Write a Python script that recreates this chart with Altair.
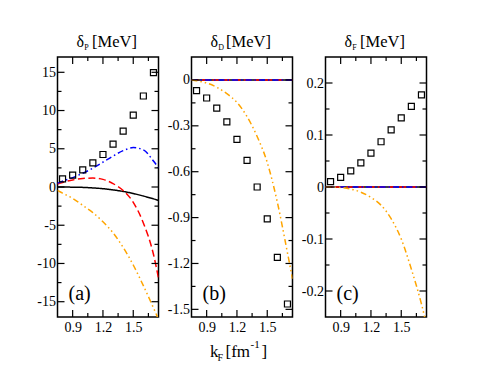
import altair as alt
import pandas as pd

FONT = "'Liberation Serif', 'Times New Roman', Times, serif"

# ---- data ----
KF_CURVE = [0.75, 0.8, 0.9, 1.0, 1.1, 1.2, 1.3, 1.4, 1.5, 1.6, 1.7, 1.75]
KF_SQ = [0.8, 0.9, 1.0, 1.1, 1.2, 1.3, 1.4, 1.5, 1.6, 1.7]

# panel (a): delta_P [MeV]
A_BLACK = [0.0, -0.01, -0.02, -0.05, -0.12, -0.22, -0.38, -0.58, -0.85, -1.18, -1.55, -1.75]
A_RED = [0.4, 0.6, 0.92, 1.12, 1.17, 1.0, 0.45, -0.45, -2.0, -4.7, -8.8, -11.9]
A_BLUE = [0.5, 0.75, 1.23, 1.8, 2.46, 3.25, 4.05, 4.75, 5.15, 4.85, 3.4, 2.5]
A_ORANGE = [-0.45, -0.8, -1.5, -2.4, -3.35, -4.55, -6.0, -7.9, -10.2, -12.9, -15.8, -17.3]
A_SQ = [1.05, 1.55, 2.24, 3.16, 4.25, 5.6, 7.3, 9.4, 11.9, 14.95]

# panel (b): delta_D [MeV]
B_BLACK = [0.0] * 12
B_RED = [0.0] * 12
B_BLUE = [0.0] * 12
B_ORANGE = [0.0, -0.005, -0.02, -0.048, -0.09, -0.147, -0.24, -0.37, -0.54, -0.80, -1.13, -1.3]
B_SQ = [-0.070, -0.118, -0.184, -0.274, -0.388, -0.526, -0.70, -0.909, -1.16, -1.465]

# panel (c): delta_F [MeV]
C_BLACK = [0.0] * 12
C_RED = [0.0] * 12
C_BLUE = [0.0] * 12
C_ORANGE = [0.0, 0.0, -0.001, -0.004, -0.01, -0.02, -0.035, -0.061, -0.10, -0.158, -0.225, -0.265]
C_SQ = [0.0103, 0.0187, 0.031, 0.0465, 0.065, 0.087, 0.110, 0.133, 0.155, 0.177]

X_MAJOR = [0.9, 1.2, 1.5]
X_MINOR = [1.05, 1.35, 1.65]
A_YMAJOR = [-15, -10, -5, 0, 5, 10, 15]
A_YMINOR = [-12.5, -7.5, -2.5, 2.5, 7.5, 12.5]
B_YMAJOR = [0, -0.3, -0.6, -0.9, -1.2, -1.5]
B_YMINOR = [-0.15, -0.45, -0.75, -1.05, -1.35]
C_YMAJOR = [-0.2, -0.1, 0, 0.1, 0.2]
C_YMINOR = [-0.15, -0.05, 0.05, 0.15]

SUBS = ["P", "D", "F"]
TAGS = ["(a)", "(b)", "(c)"]
XLABEL_PARTS = ["k", "F", "[fm", "-1", "]"]

W, H = 101, 260
MAJ, MIN = 7, 4

COLORS = {"black": "#000000", "red": "#FF0000", "blue": "#0000FF", "orange": "#FFA500"}
DASHES = {"black": [1, 0], "red": [7, 3.5], "blue": [6, 3, 1.5, 3], "orange": [6, 3, 1.5, 3, 1.5, 3]}


def panel(curves, sq, ydom, ymaj, ymin, lab_expr, sub, tag, xlabel=False):
    xs = alt.Scale(domain=[0.75, 1.75], nice=False, zero=False)
    ys = alt.Scale(domain=ydom, nice=False, zero=False)
    xa = alt.Axis(values=X_MAJOR, format=".1f", title=None, grid=False, ticks=False,
                  domain=False, labelPadding=3, labelFontSize=14, labelFont=FONT,
                  labelColor="black")
    ya = alt.Axis(values=ymaj, labelExpr=lab_expr, title=None, grid=False, ticks=False,
                  domain=False, labelPadding=2, labelFontSize=14, labelFont=FONT,
                  labelColor="black")

    def X(f):
        return alt.X(f, scale=xs, axis=xa)

    def Y(f):
        return alt.Y(f, scale=ys, axis=ya)

    layers = []
    for name in ["black", "red", "blue", "orange"]:
        df = pd.DataFrame({"kF": KF_CURVE, "val": curves[name]})
        layers.append(
            alt.Chart(df).mark_line(color=COLORS[name], strokeDash=DASHES[name],
                                    strokeWidth=1.5, clip=True, interpolate="monotone")
            .encode(x=X("kF:Q"), y=Y("val:Q"))
        )
    dsq = pd.DataFrame({"kF": KF_SQ, "val": sq})
    layers.append(
        alt.Chart(dsq).mark_point(shape="square", filled=False, size=36, strokeWidth=1.2,
                                  color="black", opacity=1)
        .encode(x=X("kF:Q"), y=Y("val:Q"))
    )
    # inward ticks on all four sides
    for vals, ln in [(X_MAJOR, MAJ), (X_MINOR, MIN)]:
        d = pd.DataFrame({"kF": vals})
        layers.append(alt.Chart(d).mark_rule(color="black", strokeWidth=1.2)
                      .encode(x=X("kF:Q"), y=alt.value(H), y2=alt.value(H - ln)))
        layers.append(alt.Chart(d).mark_rule(color="black", strokeWidth=1.2)
                      .encode(x=X("kF:Q"), y=alt.value(0), y2=alt.value(ln)))
    for vals, ln in [(ymaj, MAJ), (ymin, MIN)]:
        d = pd.DataFrame({"val": vals})
        layers.append(alt.Chart(d).mark_rule(color="black", strokeWidth=1.2)
                      .encode(y=Y("val:Q"), x=alt.value(0), x2=alt.value(ln)))
        layers.append(alt.Chart(d).mark_rule(color="black", strokeWidth=1.2)
                      .encode(y=Y("val:Q"), x=alt.value(W), x2=alt.value(W - ln)))

    def txt(s, x, y, size, align="left"):
        return (alt.Chart(pd.DataFrame({"s": [s]}))
                .mark_text(font=FONT, fontSize=size, align=align, baseline="alphabetic",
                           color="black")
                .encode(text="s:N", x=alt.value(x), y=alt.value(y)))

    # title delta_X [MeV]
    layers.append(txt("δ", 26.5, -10, 16, "right"))
    layers.append(txt(sub, 26.8, -7.5, 8))
    layers.append(txt("[MeV]", 34.5, -10, 16.5))
    # panel tag
    layers.append(txt(tag, 11, 243, 20))
    if xlabel:
        layers.append(txt(XLABEL_PARTS[0], 18.4, 300, 17))
        layers.append(txt(XLABEL_PARTS[1], 26, 304, 10))
        layers.append(txt(XLABEL_PARTS[2], 34, 300, 17))
        layers.append(txt(XLABEL_PARTS[3], 59, 290.5, 11))
        layers.append(txt(XLABEL_PARTS[4], 70, 300, 17))
    return alt.layer(*layers).properties(width=W, height=H)


INT_EXPR = "datum.value < 0 ? '-' + format(-datum.value, 'd') : format(datum.value, 'd')"
DEC_EXPR = ("datum.value == 0 ? '0' : (datum.value < 0 ? '-' + format(-datum.value, '.1f') "
            ": format(datum.value, '.1f'))")

pa = panel({"black": A_BLACK, "red": A_RED, "blue": A_BLUE, "orange": A_ORANGE}, A_SQ,
           [-17, 17], A_YMAJOR, A_YMINOR, INT_EXPR, SUBS[0], TAGS[0])
pb = panel({"black": B_BLACK, "red": B_RED, "blue": B_BLUE, "orange": B_ORANGE}, B_SQ,
           [-1.55, 0.15], B_YMAJOR, B_YMINOR, DEC_EXPR, SUBS[1], TAGS[1], xlabel=True)
pc = panel({"black": C_BLACK, "red": C_RED, "blue": C_BLUE, "orange": C_ORANGE}, C_SQ,
           [-0.25, 0.25], C_YMAJOR, C_YMINOR, DEC_EXPR, SUBS[2], TAGS[2])

chart = (
    alt.hconcat(pa, pb, pc, spacing=33, bounds="flush")
    .properties(padding={"left": 27.5, "top": 25, "right": 5, "bottom": 0})
    .configure_view(stroke="black", strokeWidth=1.5)
)

chart.save("out.html", embed_options={"renderer": "svg", "actions": False})
